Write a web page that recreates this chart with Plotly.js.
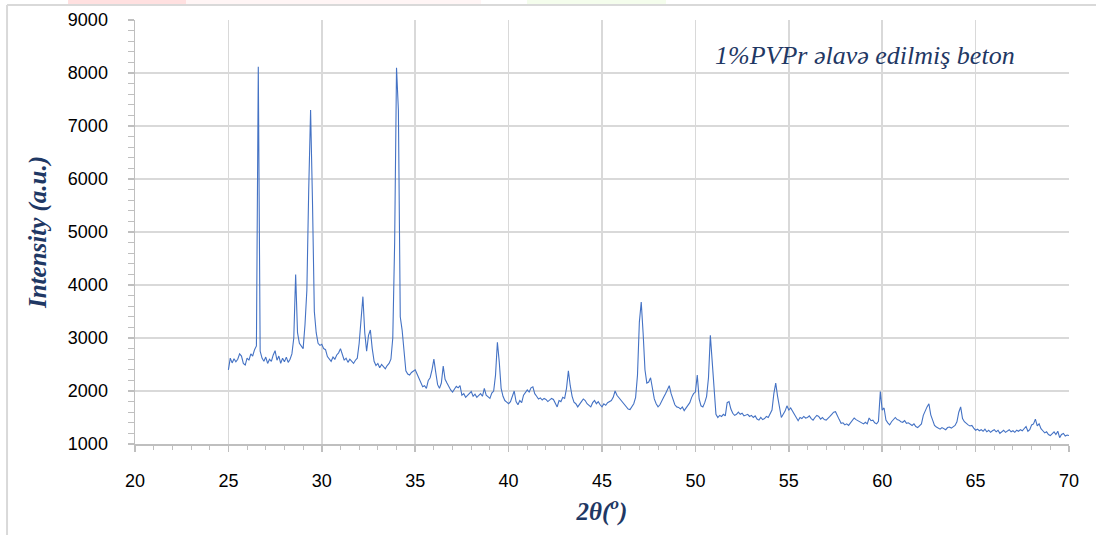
<!DOCTYPE html>
<html>
<head>
<meta charset="utf-8">
<script src="https://cdn.plot.ly/plotly-3.0.1.min.js"></script>
<style>
  html, body { margin: 0; padding: 0; background: #ffffff; }
  #chart { width: 1096px; height: 535px; }
</style>
</head>
<body>
<div id="chart"></div>
<script>
// 2θ grid of the scan (degrees): start, step
const twoThetaStart = 25.0;
const twoThetaStep = 0.1;

// Intensity (a.u.), one value per 0.1°, 25.0° … 70.0°
const intensity25to30 = [
  2400, 2620, 2530, 2610, 2550, 2600, 2700, 2660, 2520, 2490,
  2620, 2580, 2700, 2660, 2780, 2850, 8120, 2750, 2620, 2560,
  2640, 2520, 2600, 2560, 2680, 2760, 2580, 2660, 2520, 2620,
  2550, 2640, 2540, 2600, 2700, 3000, 4200, 3100, 2900, 2850,
  2800, 3250, 3900, 5800, 7300, 5600, 3500, 3100, 2900, 2860
];
const intensity30to35 = [
  2880, 2800, 2780, 2650, 2600, 2560, 2640, 2600, 2680, 2720,
  2800, 2700, 2580, 2620, 2540, 2600, 2560, 2520, 2580, 2620,
  2900, 3450, 3780, 3100, 2750, 3050, 3150, 2800, 2560, 2480,
  2520, 2440, 2500, 2460, 2420, 2480, 2520, 2600, 3000, 4800,
  8100, 7300, 3400, 3150, 2700, 2380, 2320, 2300, 2350, 2380
];
const intensity35to40 = [
  2400, 2320, 2250, 2170, 2080, 2100, 2050, 2200, 2250, 2400,
  2600, 2350, 2120, 2050, 2150, 2470, 2220, 2150, 2080, 2020,
  1980, 2050, 2090, 2060, 2100, 1920, 1950, 1880, 1920, 1960,
  1990, 1900, 1940, 1880, 1920, 1950, 1900, 2050, 1920, 1880,
  1860, 1960, 2000, 2300, 2920, 2550, 2050, 1900, 1820, 1790
];
const intensity40to45 = [
  1760, 1800, 1900, 2000, 1800, 1740, 1820, 1780, 1920, 1960,
  2020, 1980, 2060, 2080, 1950, 1900, 1850, 1870, 1830, 1860,
  1840, 1800, 1830, 1860, 1840, 1780, 1700, 1820, 1800, 1880,
  1860, 2050, 2380, 2100, 1900, 1790, 1760, 1700, 1760, 1800,
  1850, 1820, 1760, 1720, 1700, 1780, 1820, 1760, 1800, 1740
];
const intensity45to50 = [
  1700, 1760, 1730, 1780, 1800, 1820, 1880, 2000, 1920, 1880,
  1820, 1790, 1740, 1700, 1660, 1650, 1700, 1760, 1880, 2300,
  3300, 3680, 3100, 2400, 2150, 2170, 2250, 2050, 1850, 1760,
  1700, 1740, 1800, 1880, 1950, 2040, 2100, 1950, 1850, 1740,
  1700, 1690, 1660, 1700, 1630, 1680, 1720, 1780, 1880, 1950
];
const intensity50to55 = [
  1980, 2300, 1850, 1720, 1700, 1780, 1900, 2250, 3050, 2500,
  2000, 1560, 1500, 1540, 1520, 1560, 1530, 1780, 1800, 1660,
  1580, 1540, 1560, 1600, 1560, 1580, 1530, 1550, 1560, 1520,
  1540, 1500, 1530, 1470, 1450, 1500, 1460, 1480, 1520, 1500,
  1560, 1640, 1950, 2150, 1900, 1650, 1500, 1560, 1620, 1720
];
const intensity55to60 = [
  1640, 1680, 1620, 1560, 1500, 1440, 1500, 1480, 1520, 1490,
  1500, 1530, 1480, 1450, 1500, 1540, 1520, 1470, 1500, 1460,
  1450, 1480, 1520, 1560, 1600, 1610, 1520, 1460, 1390, 1400,
  1360, 1380, 1350, 1400, 1450, 1490, 1460, 1440, 1420, 1400,
  1380, 1410, 1380, 1490, 1440, 1450, 1400, 1380, 1430, 1990
];
const intensity60to65 = [
  1640, 1680, 1450, 1400, 1360, 1420, 1470, 1500, 1460, 1450,
  1420, 1410, 1440, 1390, 1400, 1380, 1350, 1380, 1330, 1310,
  1340, 1380, 1540, 1640, 1700, 1760, 1550, 1450, 1350, 1320,
  1300, 1280, 1310, 1290, 1270, 1310, 1320, 1300, 1330, 1350,
  1420, 1600, 1700, 1480, 1420, 1380, 1360, 1340, 1350, 1300
];
const intensity65to70 = [
  1260, 1280, 1250, 1270, 1240, 1280, 1230, 1260, 1220, 1250,
  1270, 1230, 1260, 1200, 1240, 1260, 1220, 1250, 1270, 1230,
  1250, 1220, 1260, 1240, 1270, 1250, 1300, 1330, 1240, 1270,
  1360, 1380, 1470, 1340, 1380, 1290, 1250, 1210, 1230, 1180,
  1160, 1200, 1230, 1180, 1240, 1120, 1180, 1200, 1150, 1170,
  1160
];

const xTickVals = [20, 25, 30, 35, 40, 45, 50, 55, 60, 65, 70];
const yTickVals = [1000, 2000, 3000, 4000, 5000, 6000, 7000, 8000, 9000];
const sampleLabel = "1%PVPr əlavə edilmiş beton";
const xTitle = "<b><i>2θ(<sup>o</sup>)</i></b>";
const yTitle = "<b><i>Intensity (a.u.)</i></b>";

const intensity = [].concat(intensity25to30, intensity30to35, intensity35to40,
  intensity40to45, intensity45to50, intensity50to55, intensity55to60,
  intensity60to65, intensity65to70);
const twoTheta = intensity.map((_, i) => +(twoThetaStart + i * twoThetaStep).toFixed(2));

const navy = "#1F3864";
const gridCol = "#d9d9d9";

const trace = {
  x: twoTheta,
  y: intensity,
  type: "scatter",
  mode: "lines",
  line: { color: "#4472C4", width: 1.1 },
  hoverinfo: "x+y"
};

const layout = {
  width: 1096,
  height: 535,
  margin: { l: 135, r: 27, t: 20, b: 91, pad: 0 },
  paper_bgcolor: "#ffffff",
  plot_bgcolor: "#ffffff",
  showlegend: false,
  xaxis: {
    range: [20, 70],
    tickvals: xTickVals,
    ticktext: xTickVals.map(String),
    showgrid: true,
    gridcolor: gridCol,
    gridwidth: 1.5,
    showline: true,
    linecolor: "#bfbfbf",
    linewidth: 1.5,
    ticks: "outside",
    ticklen: 6,
    tickcolor: "#bfbfbf",
    tickwidth: 1.5,
    minor: { dtick: 1, ticks: "outside", ticklen: 4, tickcolor: "#bfbfbf", tickwidth: 1, showgrid: false },
    zeroline: false,
    tickfont: { family: "Liberation Sans, Arial, sans-serif", size: 18, color: "#000000" },
    ticklabelstandoff: 14,
    title: { text: xTitle, font: { family: "Liberation Serif, serif", size: 25, color: navy }, standoff: 12 }
  },
  yaxis: {
    range: [1000, 9000],
    tickvals: yTickVals,
    ticktext: yTickVals.map(String),
    showgrid: true,
    gridcolor: gridCol,
    gridwidth: 1.5,
    showline: true,
    linecolor: "#bfbfbf",
    linewidth: 1.5,
    ticks: "outside",
    ticklen: 6,
    tickcolor: "#bfbfbf",
    tickwidth: 1.5,
    minor: { dtick: 200, ticks: "outside", ticklen: 6, tickcolor: "#bfbfbf", tickwidth: 1, showgrid: false },
    zeroline: false,
    tickfont: { family: "Liberation Sans, Arial, sans-serif", size: 18, color: "#000000" },
    ticklabelstandoff: 16,
    title: { text: yTitle, font: { family: "Liberation Serif, serif", size: 25, color: navy }, standoff: 14 }
  },
  annotations: [{
    text: "<i>" + sampleLabel + "</i>",
    xref: "paper", yref: "paper",
    x: 0.7816, y: 0.917,
    xanchor: "center", yanchor: "middle",
    showarrow: false,
    font: { family: "Liberation Serif, serif", size: 26, color: navy }
  }],
  shapes: [
    { type: "rect", xref: "paper", yref: "paper", x0: -0.0717, x1: 0.0546, y0: 1.0354, y1: 1.06,
      line: { width: 0 }, fillcolor: "#ffe0e0", layer: "below" },
    { type: "rect", xref: "paper", yref: "paper", x0: 0.0546, x1: 0.3704, y0: 1.0354, y1: 1.06,
      line: { width: 0 }, fillcolor: "#fff5f5", layer: "below" },
    { type: "rect", xref: "paper", yref: "paper", x0: 0.4197, x1: 0.5685, y0: 1.0354, y1: 1.06,
      line: { width: 0 }, fillcolor: "#f4fdec", layer: "below" },
    { type: "line", xref: "paper", yref: "paper", x0: -0.137, x1: 1.03, y0: 1.0354, y1: 1.0354,
      line: { color: "#d9d9d9", width: 2 } },
    { type: "line", xref: "paper", yref: "paper", x0: -0.137, x1: -0.137, y0: 1.0354, y1: -0.22,
      line: { color: "#d9d9d9", width: 2 } }
  ]
};

Plotly.newPlot("chart", [trace], layout, { displayModeBar: false, staticPlot: true });
</script>
</body>
</html>
